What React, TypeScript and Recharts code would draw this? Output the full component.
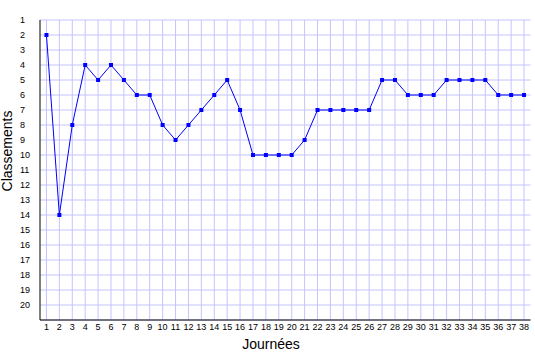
import React from 'react';
import { LineChart, Line, XAxis, YAxis, CartesianGrid, Label, ReferenceLine } from 'recharts';

// classement à chaque journée
const journees = [
  1, 2, 3, 4, 5, 6, 7, 8, 9, 10, 11, 12, 13, 14, 15, 16, 17, 18, 19,
  20, 21, 22, 23, 24, 25, 26, 27, 28, 29, 30, 31, 32, 33, 34, 35, 36, 37, 38,
];
const classements = [
  2, 14, 8, 4, 5, 4, 5, 6, 6, 8, 9, 8, 7, 6, 5, 7, 10, 10, 10,
  10, 9, 7, 7, 7, 7, 7, 5, 5, 6, 6, 6, 5, 5, 5, 5, 6, 6, 6,
];
const rangTicks = [1, 2, 3, 4, 5, 6, 7, 8, 9, 10, 11, 12, 13, 14, 15, 16, 17, 18, 19, 20];

const data = journees.map((j, i) => ({ journee: j, rang: classements[i] }));

const FONT = '"Liberation Sans", Arial, sans-serif';
const BLUE = '#0000ff';
const GRID = '#c4c4ff';

const XTick = (props: any) => {
  const { x, y, payload } = props;
  return (
    <text x={x} y={y + 10} textAnchor="middle" fontSize={9} fontFamily={FONT} fill="#000">
      {payload.value}
    </text>
  );
};

const YTick = (props: any) => {
  const { y, payload } = props;
  return (
    <text x={20} y={y + 3.3} textAnchor="start" fontSize={9} fontFamily={FONT} fill="#000">
      {payload.value}
    </text>
  );
};

const SquareDot = (props: any) => {
  const { cx, cy, index } = props;
  if (cx == null || cy == null) return null;
  return <rect key={index} x={cx - 2} y={cy - 2} width={4} height={4} fill={BLUE} />;
};

export default function App() {
  return (
    <div style={{ position: 'absolute', left: 0, top: 0, background: '#fff' }}>
      <LineChart
        width={535}
        height={360}
        data={data}
        margin={{ top: 20, right: 4.5, bottom: 0, left: 0 }}
      >
        {/* grille horizontale par rang, verticale par journée (pas de bord à droite) */}
        <CartesianGrid stroke={GRID} strokeWidth={1} vertical={false} />
        {journees.map((j) => (
          <ReferenceLine key={j} x={j} stroke={GRID} strokeWidth={1} />
        ))}
        <XAxis
          dataKey="journee"
          type="number"
          domain={[0.5, 38.5]}
          ticks={journees}
          interval={0}
          height={40}
          tickLine={false}
          tickSize={0}
          tickMargin={0}
          axisLine={{ stroke: '#000' }}
          tick={<XTick />}
        >
          <Label
            content={() => (
              <text x={271} y={349} textAnchor="middle" fontSize={14} fontFamily={FONT} fill="#000">
                Journées
              </text>
            )}
          />
        </XAxis>
        <YAxis
          type="number"
          domain={[1, 21]}
          reversed
          ticks={rangTicks}
          interval={0}
          width={40}
          tickLine={false}
          tickSize={0}
          axisLine={{ stroke: '#000' }}
          tick={<YTick />}
        >
          <Label
            content={() => (
              <text
                x={12}
                y={151}
                transform="rotate(-90 12 151)"
                textAnchor="middle"
                fontSize={14}
                fontFamily={FONT}
                fill="#000"
              >
                Classements
              </text>
            )}
          />
        </YAxis>
        <Line
          type="linear"
          dataKey="rang"
          stroke={BLUE}
          strokeWidth={1}
          dot={<SquareDot />}
          activeDot={false}
          isAnimationActive={false}
        />
      </LineChart>
    </div>
  );
}
